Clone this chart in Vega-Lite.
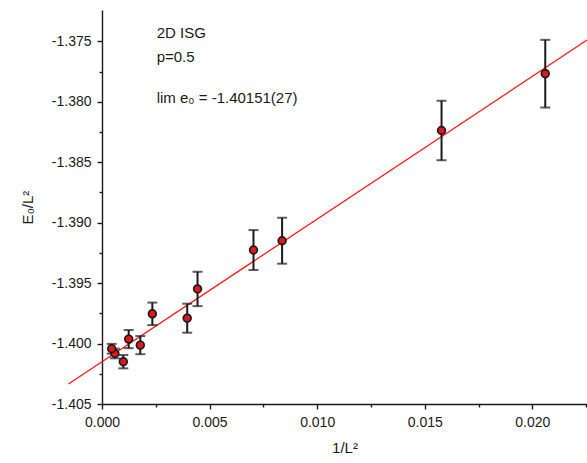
{
  "$schema": "https://vega.github.io/schema/vega-lite/v6.json",
  "width": 485,
  "height": 394,
  "autosize": {"type": "none"},
  "padding": {"left": 102, "top": 10, "right": 0, "bottom": 59},
  "background": "white",
  "config": {
    "view": {"stroke": null},
    "font": "Liberation Sans",
    "axis": {
      "grid": false,
      "domainColor": "#1a1a1a",
      "domainWidth": 1.4,
      "tickColor": "#1a1a1a",
      "tickWidth": 1.4,
      "labelFont": "Liberation Sans",
      "labelFontSize": 14,
      "labelColor": "#1a1a1a",
      "titleFont": "Liberation Sans",
      "titleFontSize": 15,
      "titleFontWeight": "normal",
      "titleColor": "#1a1a1a"
    }
  },
  "datasets": {
    "pts": [
      {"x": 0.0206, "e": -1.37767, "err": 0.0028},
      {"x": 0.01578, "e": -1.38237, "err": 0.00246},
      {"x": 0.00837, "e": -1.39149, "err": 0.0019},
      {"x": 0.00704, "e": -1.39226, "err": 0.00165},
      {"x": 0.00444, "e": -1.39548, "err": 0.00142},
      {"x": 0.00396, "e": -1.3979, "err": 0.0012},
      {"x": 0.00234, "e": -1.39754, "err": 0.00093},
      {"x": 0.00178, "e": -1.40013, "err": 0.00075},
      {"x": 0.00124, "e": -1.39963, "err": 0.00075},
      {"x": 0.00099, "e": -1.4015, "err": 0.00055},
      {"x": 0.00060, "e": -1.40082, "err": 0.0004},
      {"x": 0.00045, "e": -1.40043, "err": 0.0004}
    ],
    "fit": [
      {"x": -0.00156, "e": -1.40335},
      {"x": 0.02254, "e": -1.37489}
    ],
    "notes": [
      {"x": 0.00254, "e": -1.37475, "label": "2D ISG"},
      {"x": 0.00254, "e": -1.37671, "label": "p=0.5"},
      {"x": 0.00254, "e": -1.38012, "label": "lim e₀ = -1.40151(27)"}
    ]
  },
  "encoding": {
    "x": {
      "field": "x",
      "type": "quantitative",
      "title": "1/L²",
      "scale": {"domain": [0, 0.02254], "nice": false, "zero": false},
      "axis": {
        "values": [0, 0.0025, 0.005, 0.0075, 0.01, 0.0125, 0.015, 0.0175, 0.02, 0.0225],
        "labelExpr": "abs(datum.value*200 - round(datum.value*200)) < 0.001 ? format(datum.value, '.3f') : ''",
        "tickSize": {"condition": {"test": "abs(datum.value*200 - round(datum.value*200)) < 0.001", "value": 5}, "value": 3},
        "labelPadding": 6,
        "titlePadding": 11,
        "labelFlush": false
      }
    },
    "y": {
      "field": "e",
      "type": "quantitative",
      "title": "E₀/L²",
      "scale": {"domain": [-1.405, -1.3724], "nice": false, "zero": false},
      "axis": {
        "values": [-1.405, -1.4025, -1.4, -1.3975, -1.395, -1.3925, -1.39, -1.3875, -1.385, -1.3825, -1.38, -1.3775, -1.375],
        "labelExpr": "abs(datum.value*200 - round(datum.value*200)) < 0.001 ? replace(format(datum.value, '.3f'), '−', '-') : ''",
        "tickSize": {"condition": {"test": "abs(datum.value*200 - round(datum.value*200)) < 0.001", "value": 5}, "value": 3},
        "labelPadding": 6,
        "titlePadding": 16,
        "labelFlush": false
      }
    }
  },
  "layer": [
    {
      "data": {"name": "fit"},
      "mark": {"type": "line", "color": "#ff1a1a", "strokeWidth": 1.3, "clip": false}
    },
    {
      "data": {"name": "pts"},
      "mark": {"type": "errorbar", "ticks": {"size": 10, "thickness": 2, "color": "#1a1a1a"}, "thickness": 2, "color": "#1a1a1a"},
      "encoding": {
        "yError": {"field": "err"}
      }
    },
    {
      "data": {"name": "pts"},
      "mark": {"type": "point", "filled": true, "fill": "#e3161e", "stroke": "#1a1a1a", "strokeWidth": 1.7, "size": 60, "opacity": 1, "fillOpacity": 1}
    },
    {
      "data": {"name": "notes"},
      "mark": {"type": "text", "align": "left", "baseline": "alphabetic", "fontSize": 15, "font": "Liberation Sans", "color": "#1a1a1a"},
      "encoding": {"text": {"field": "label"}}
    }
  ]
}
